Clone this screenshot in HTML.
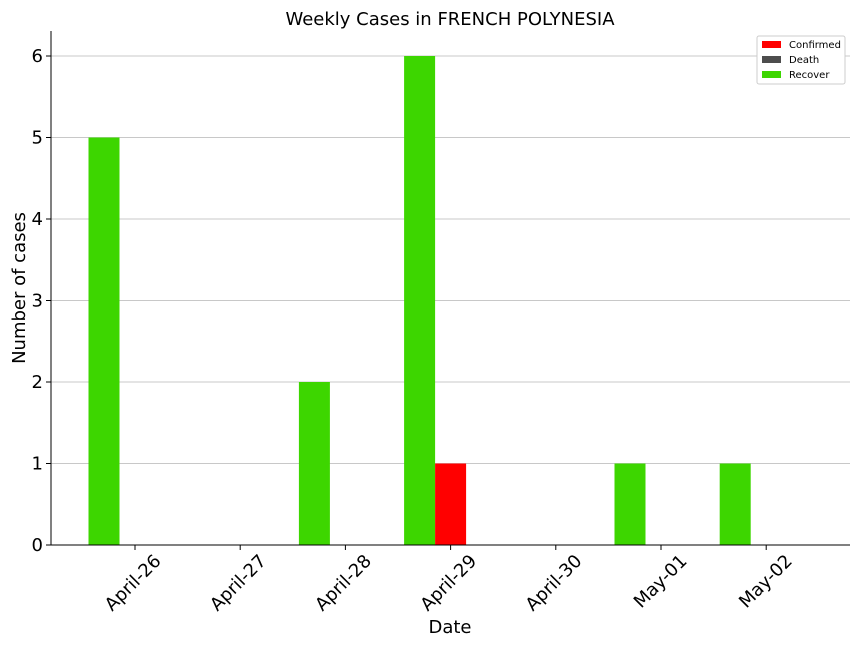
<!DOCTYPE html>
<html><head><meta charset="utf-8"><style>
body{margin:0;background:#fff;font-family:"Liberation Sans","DejaVu Sans",sans-serif}
</style></head><body>
<svg id="chart" width="864" height="648" xmlns="http://www.w3.org/2000/svg" font-family="DejaVu Sans, Liberation Sans, sans-serif">
<text x="450" y="25" font-size="18" text-anchor="middle">Weekly Cases in FRENCH POLYNESIA</text>
<g id="grid"></g><g id="bars"></g><g id="axes"></g>
<text x="450" y="633" font-size="18" text-anchor="middle">Date</text>
<text transform="translate(25,288) rotate(-90)" font-size="18" text-anchor="middle">Number of cases</text>
<g>
<rect x="757" y="36" width="88" height="48" fill="#fff" stroke="#ccc" rx="2"/>
<rect x="762" y="41" width="19" height="7" fill="#ff0000"/>
<text x="789" y="48" font-size="10">Confirmed</text>
<rect x="762" y="56" width="19" height="7" fill="#4d4d4d"/>
<text x="789" y="63" font-size="10">Death</text>
<rect x="762" y="71" width="19" height="7" fill="#3dd600"/>
<text x="789" y="78" font-size="10">Recover</text>
</g>
</svg>
<script>
const categories=["April-26","April-27","April-28","April-29","April-30","May-01","May-02"];
const confirmed=[0,0,0,1,0,0,0];
const deaths=[0,0,0,0,0,0,0];
const recovered=[5,0,2,6,0,1,1];
const yTicks=[0,1,2,3,4,5,6];
const NS="http://www.w3.org/2000/svg";
const x0=51,x1=850,yTop=31,yBot=545;
const y=v=>yBot-v*81.5;
const xc=i=>135+i*105.2;
const bw=31;
function mk(t,a,p){const e=document.createElementNS(NS,t);for(const k in a)e.setAttribute(k,a[k]);p.appendChild(e);return e;}
const grid=document.getElementById('grid'),bars=document.getElementById('bars'),axes=document.getElementById('axes');
yTicks.forEach(v=>{
 if(v>0){const g=mk('line',{x1:x0,x2:x1,y1:y(v),y2:y(v),stroke:'#c8c8c8','stroke-width':1},grid);
 
 }
 mk('line',{x1:x0-5,x2:x0,y1:y(v),y2:y(v),stroke:'#000'},axes);
 const t=mk('text',{x:x0-8,y:y(v)+6,'font-size':18,'text-anchor':'end'},axes);t.textContent=v;
 
 
});
const series=[[recovered,'#3dd600',-1,'recover'],[confirmed,'#ff0000',0,'confirmed'],[deaths,'#4d4d4d',1,'death']];
categories.forEach((c,i)=>{
 series.forEach(([arr,col,off,nm])=>{
  if(arr[i]>0){const r=mk('rect',{x:xc(i)+off*bw-bw/2,y:y(arr[i]),width:bw,height:yBot-y(arr[i]),fill:col},bars);
  
  }
 });
 mk('line',{x1:xc(i),x2:xc(i),y1:yBot,y2:yBot+5,stroke:'#000'},axes);
 const t=mk('text',{transform:`translate(${xc(i)+27},${yBot+17}) rotate(-45)`,'font-size':18,'text-anchor':'end'},axes);
 t.textContent=c;
 
 
});
mk('line',{x1:x0,x2:x0,y1:yTop,y2:yBot,stroke:'#000'},axes);
mk('line',{x1:x0,x2:x1,y1:yBot,y2:yBot,stroke:'#000'},axes);
</script>
</body></html>
